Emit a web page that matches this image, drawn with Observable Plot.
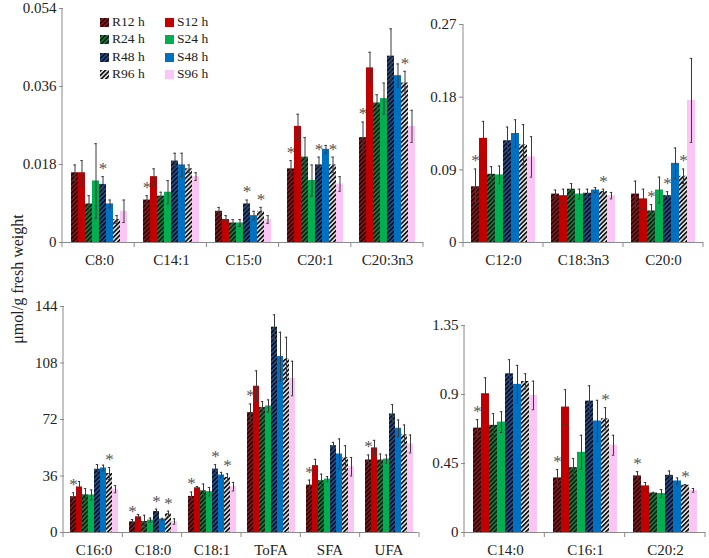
<!DOCTYPE html>
<html><head><meta charset="utf-8">
<script src="https://cdn.jsdelivr.net/npm/d3@7"></script>
<script src="https://cdn.jsdelivr.net/npm/@observablehq/plot@0.6"></script>
<style>
body{margin:0;background:#fff;}
#chart{position:relative;width:709px;height:558px;overflow:hidden;font-family:"Liberation Serif","Times New Roman",serif;}
.panel{position:absolute;}
.panel svg{overflow:visible;}
#ylab{position:absolute;left:18px;top:279px;transform:translate(-50%,-50%) rotate(-90deg);font-size:16px;color:#222;white-space:nowrap;}
#legend{position:absolute;left:100px;top:13px;font-size:13.5px;color:#222;line-height:17px;}
.lg{position:absolute;white-space:nowrap;}
.lg svg{vertical-align:-1px;margin-right:3px;}
</style></head><body>
<svg width="0" height="0" style="position:absolute"><defs id="defs"></defs></svg>
<div id="chart"><div id="ylab">μmol/g fresh weight</div><div id="legend"></div></div>
<script>
// ---------- data ----------
const series = ["R12 h","S12 h","R24 h","S24 h","R48 h","S48 h","R96 h","S96 h"];

const p1Cats = ["C8:0","C14:1","C15:0","C20:1","C20:3n3"];
const p1Values = [
  [0.0161,0.0161,0.0089,0.0142,0.0134,0.0089,0.0053,0.0072],
  [0.0098,0.0152,0.0107,0.0116,0.0188,0.0179,0.0170,0.0152],
  [0.0072,0.0053,0.0045,0.0045,0.0089,0.0062,0.0072,0.0053],
  [0.0170,0.0268,0.0197,0.0143,0.0179,0.0215,0.0179,0.0135],
  [0.0242,0.0403,0.0322,0.0332,0.0430,0.0385,0.0368,0.0268]];
const p1Errors = [
  [0.0018,0.0028,0.0019,0.0086,0.0018,0.0009,0.0009,0.0026],
  [0.0010,0.0018,0.0009,0.0027,0.0018,0.0027,0.0009,0.0009],
  [0.0009,0.0009,0.0008,0.0008,0.0009,0.0010,0.0009,0.0009],
  [0.0019,0.0028,0.0045,0.0036,0.0018,0.0009,0.0018,0.0017],
  [0.0036,0.0036,0.0019,0.0036,0.0063,0.0027,0.0027,0.0037]];
const p1Stars = [["R48 h"],["R12 h"],["R48 h","R96 h"],["R12 h","R48 h","R96 h"],["R12 h","R96 h"]];
const p1Ticks = [0,0.018,0.036,0.054];

const p2Cats = ["C12:0","C18:3n3","C20:0"];
const p2Values = [
  [0.069,0.129,0.0845,0.0837,0.126,0.135,0.121,0.106],
  [0.060,0.058,0.066,0.060,0.061,0.065,0.063,0.058],
  [0.060,0.054,0.039,0.065,0.058,0.098,0.082,0.176]];
const p2Errors = [
  [0.022,0.021,0.0095,0.011,0.017,0.017,0.025,0.025],
  [0.005,0.008,0.007,0.006,0.005,0.003,0.003,0.004],
  [0.016,0.012,0.008,0.016,0.005,0.019,0.009,0.052]];
const p2Stars = [["R12 h"],["R96 h"],["R24 h","R48 h","R96 h"]];
const p2Ticks = [0,0.09,0.18,0.27];

const p3Cats = ["C16:0","C18:0","C18:1","ToFA","SFA","UFA"];
const p3Values = [
  [22.8,29.0,24.0,23.9,40.3,41.1,37.6,27.6],
  [6.8,10.0,7.0,7.9,13.4,8.5,11.9,7.0],
  [23.0,28.5,26.6,26.0,40.4,36.6,35.1,29.2],
  [76.4,93.2,79.6,80.6,130.8,112.1,110.6,98.1],
  [30.2,42.6,33.0,34.0,55.3,50.0,47.8,41.9],
  [46.2,53.9,46.2,46.8,75.5,66.4,62.3,56.4]];
const p3Errors = [
  [2.5,3.5,4.0,3.2,3.0,1.8,3.8,2.3],
  [1.5,1.5,4.0,1.3,1.5,0.5,1.7,1.7],
  [2.8,0.8,4.3,2.7,2.8,1.7,2.3,2.7],
  [5.5,9.8,3.8,3.9,7.9,15.5,13.8,11.0],
  [3.2,4.0,4.2,1.6,2.1,9.6,7.5,5.9],
  [3.2,4.8,3.8,2.6,6.0,5.3,6.2,5.7]];
const p3Stars = [["R12 h","R96 h"],["R12 h","R48 h","R96 h"],["R12 h","R48 h","R96 h"],["R12 h"],["R12 h"],["R12 h"]];
const p3Ticks = [0,36,72,108,144];

const p4Cats = ["C14:0","C16:1","C20:2"];
const p4Values = [
  [0.681,0.905,0.699,0.720,1.035,0.966,0.985,0.894],
  [0.356,0.818,0.423,0.523,0.857,0.727,0.742,0.569],
  [0.369,0.304,0.258,0.254,0.373,0.336,0.308,0.275]];
const p4Errors = [
  [0.055,0.104,0.076,0.068,0.092,0.124,0.050,0.093],
  [0.054,0.113,0.059,0.111,0.100,0.135,0.072,0.065],
  [0.028,0.022,0.004,0.026,0.028,0.020,0.005,0.012]];
const p4Stars = [["R12 h"],["R12 h","R96 h"],["R12 h","R96 h"]];
const p4Ticks = [0,0.45,0.9,1.35];

// ---------- styles ----------
const hatch = {
  "R12 h": ["#861b1d", "#2a0406"],
  "R24 h": ["#237a43", "#061f0e"],
  "R48 h": ["#2d4f86", "#08122b"],
  "R96 h": ["#e6e6e6", "#111111"]
};
const solid = {"S12 h":"#c00000","S24 h":"#00b050","S48 h":"#0070c0","S96 h":"#fbc6f6"};
const defs = d3.select("#defs");
Object.entries(hatch).forEach(([k,[bg,fg]],i) => {
  const p = defs.append("pattern").attr("id","h"+i).attr("patternUnits","userSpaceOnUse")
    .attr("width",3.2).attr("height",3.2).attr("patternTransform","rotate(45)");
  p.append("rect").attr("width",3.2).attr("height",3.2).attr("fill",bg);
  p.append("rect").attr("width",1.7).attr("height",3.2).attr("fill",fg);
});
const hatchIds = Object.keys(hatch);
const fillOf = s => solid[s] || `url(#h${hatchIds.indexOf(s)})`;

const FONT = '"Liberation Serif","Times New Roman",serif';
const chart = document.getElementById("chart");

function panel(cats, values, errors, stars, ticks, box) {
  const rows = [];
  cats.forEach((c,i) => series.forEach((s,j) => rows.push({
    cat: c, series: s, value: values[i][j], err: errors[i][j], star: stars[i].includes(s)
  })));
  const plot = Plot.plot({
    width: box.width, height: box.height,
    marginLeft: box.ml, marginRight: box.mr, marginTop: box.mt, marginBottom: box.mb,
    style: {fontFamily: FONT, fontSize: "15px", color: "#222", background: "transparent", overflow: "visible"},
    fx: {domain: cats, padding: 0, label: null, tickSize: 0, tickPadding: 12},
    x: {domain: series, paddingInner: 0, paddingOuter: 0.8, axis: null},
    y: {domain: [ticks[0], ticks[ticks.length-1]], ticks, tickFormat: d => String(d), label: null, tickSize: 4, tickPadding: 3},
    color: {domain: series, range: series.map(fillOf)},
    marks: [
      Plot.barY(rows, {fx: "cat", x: "series", y: "value", fill: "series"}),
      Plot.ruleX(rows, {fx: "cat", x: "series", y1: d => d.value - d.err, y2: d => d.value + d.err, stroke: "#3a3a3a", strokeWidth: 1}),
      Plot.tickY(rows, {fx: "cat", x: "series", y: d => d.value + d.err, stroke: "#3a3a3a", insetLeft: box.cap, insetRight: box.cap}),
      Plot.tickY(rows, {fx: "cat", x: "series", y: d => d.value - d.err, stroke: "#3a3a3a", insetLeft: box.cap, insetRight: box.cap}),
      Plot.text(rows.filter(d => d.star), {fx: "cat", x: "series", y: d => d.value + d.err, text: d => "*", dy: -8, fontSize: 17, fill: "#555"}),
      Plot.ruleY([0], {stroke: "#8a8a8a"})
    ]
  });
  const svg = d3.select(plot.tagName.toLowerCase() === "svg" ? plot : plot.querySelector("svg"));
  const x0 = box.ml, y0 = box.height - box.mb;
  svg.append("line").attr("x1", x0).attr("x2", x0).attr("y1", box.mt).attr("y2", y0).attr("stroke", "#8a8a8a");
  const step = (box.width - box.ml - box.mr) / cats.length;
  d3.range(cats.length + 1).forEach(i => {
    svg.append("line").attr("x1", x0 + i*step).attr("x2", x0 + i*step).attr("y1", y0).attr("y2", y0 + 5).attr("stroke", "#8a8a8a");
  });
  svg.selectAll("[aria-label='y-axis tick'] path, [aria-label='y-axis'] line, [aria-label='y-axis'] path").attr("stroke", "#8a8a8a");
  const div = document.createElement("div");
  div.className = "panel";
  div.style.left = box.left + "px"; div.style.top = box.top + "px";
  div.appendChild(plot);
  chart.appendChild(div);
}

panel(p1Cats, p1Values, p1Errors, p1Stars, p1Ticks, {left:0, top:0, width:430, height:275, ml:62, mr:7, mt:8, mb:33, cap:2.3});
panel(p2Cats, p2Values, p2Errors, p2Stars, p2Ticks, {left:400, top:0, width:309, height:275, ml:63, mr:6, mt:24, mb:33, cap:2.8});
panel(p3Cats, p3Values, p3Errors, p3Stars, p3Ticks, {left:0, top:280, width:430, height:278, ml:63, mr:11, mt:26, mb:26, cap:1.8});
panel(p4Cats, p4Values, p4Errors, p4Stars, p4Ticks, {left:400, top:280, width:309, height:278, ml:64, mr:4, mt:45, mb:26, cap:2.8});

// legend
const legend = d3.select("#legend");
series.forEach((s, j) => {
  const col = j % 2, row = Math.floor(j / 2);
  const item = legend.append("div").attr("class", "lg").style("left", (col*65) + "px").style("top", (row*17.3) + "px");
  item.append("svg").attr("width", 9).attr("height", 9).append("rect").attr("width", 9).attr("height", 9).attr("fill", fillOf(s));
  item.append("span").text(s);
});
</script>
</body></html>
